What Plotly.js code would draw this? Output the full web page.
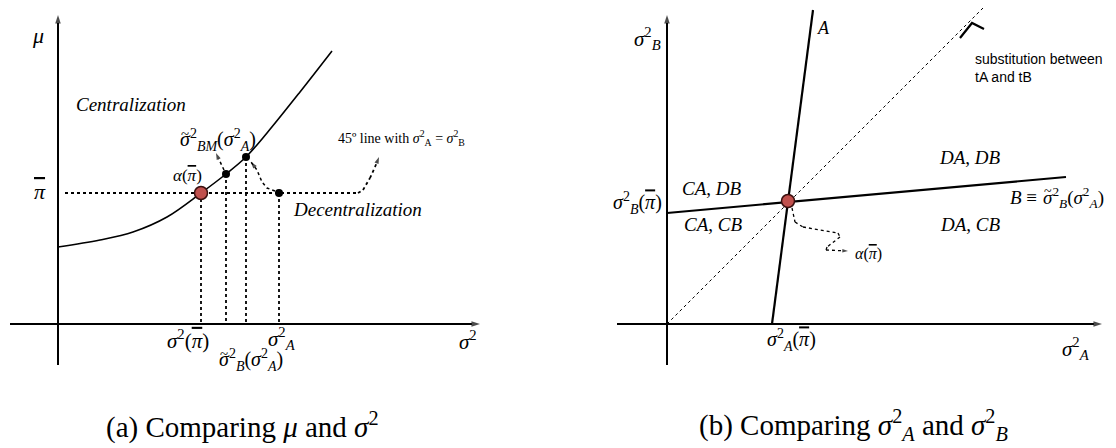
<!DOCTYPE html>
<html>
<head>
<meta charset="utf-8">
<script src="https://cdn.plot.ly/plotly-3.0.1.min.js"></script>
<style>
  body { margin: 0; background: #fff; }
  #chart { width: 1116px; height: 448px; }
</style>
</head>
<body>
<div id="chart"></div>
<script>
// ---- panel (a): mu vs sigma^2 ----
const curveX = [0, 4.2, 7.5, 10.9, 14.3, 16.8, 18.8, 20.9, 24.2, 27.4];
const curveY = [7.7, 8.4, 9.2, 10.7, 13.1, 15.0, 16.7, 19.1, 23.2, 27.3];
const alphaX = [14.3];
const alphaY = [13.1];
const dotX = [16.8, 18.8, 22.1];
const dotY = [15.0, 16.7, 13.1];
const dropX = [14.3, 16.8, 18.8, 22.1];
const dropY = [13.1, 15.0, 16.7, 13.1];
const hookX = [0.7, 30.0, 30.5, 31.2, 31.7, 32.1];
const hookY = [13.1, 13.1, 13.4, 14.6, 15.7, 16.7];
const bmArrowX = [16.6, 16.2, 15.8];
const bmArrowY = [15.4, 16.2, 17.1];
const decArrowX = [21.7, 20.9, 20.4, 19.9, 19.3];
const decArrowY = [13.3, 13.6, 14.2, 15.4, 16.2];
const axA_x = [[0, 0], [-4.8, 42.2]];
const axA_y = [[-4.1, 30.9], [0, 0]];

// ---- panel (b): sigma_A^2 vs sigma_B^2 ----
const lineAX = [10.5, 14.6];
const lineAY = [0, 31.4];
const lineBX = [0, 39.9];
const lineBY = [11.1, 14.7];
const diagX = [0, 31.6];
const diagY = [0, 31.6];
const chevX = [29.3, 30.5, 31.7];
const chevY = [28.6, 30.1, 29.5];
const wigX = [12.5, 12.8, 13.6, 17.1, 17.3, 16.0, 15.9, 18.1];
const wigY = [11.6, 10.2, 9.7, 9.1, 8.7, 7.7, 7.4, 7.3];
const alphaBX = [12.1];
const alphaBY = [12.3];
const axB_x = [[0, 0], [-5.0, 43.5]];
const axB_y = [[-4.1, 30.9], [0, 0]];

const serif = 'Liberation Serif, Times New Roman, serif';
const sans = 'Liberation Sans, Arial, sans-serif';

// line with an arrowhead on its last point
function arrowLine(xs, ys, xa, ya, width, dash, headSize) {
    let sym = xs.map((v, i) => i == xs.length - 1 ? 'arrow' : 'circle');
    let sz = xs.map((v, i) => i == xs.length - 1 ? headSize : 0);
    return {
        type: 'scatter', mode: 'lines+markers', x: xs, y: ys, xaxis: xa, yaxis: ya,
        line: {color: '#000', width: width, dash: dash},
        marker: {symbol: sym, size: sz, color: '#000', angleref: 'previous', line: {width: 0}},
        hoverinfo: 'skip'
    };
}
function plainLine(xs, ys, xa, ya, width, dash, shape) {
    return {
        type: 'scatter', mode: 'lines', x: xs, y: ys, xaxis: xa, yaxis: ya,
        line: {color: '#000', width: width, dash: dash, shape: shape || 'linear', smoothing: 1},
        hoverinfo: 'skip'
    };
}

let traces = [];
// panel a
for (let i = 0; i < 2; i++) traces.push(arrowLine(axA_x[i], axA_y[i], 'x', 'y', 2, 'solid', 9));
traces.push(plainLine(curveX, curveY, 'x', 'y', 1.6, 'solid', 'spline'));
for (let i = 0; i < dropX.length; i++) traces.push(plainLine([dropX[i], dropX[i]], [dropY[i], 0], 'x', 'y', 1.8, 'dot'));
traces.push(arrowLine(hookX, hookY, 'x', 'y', 1.8, 'dot', 7));
traces.push(arrowLine(bmArrowX, bmArrowY, 'x', 'y', 1.5, 'dot', 7));
traces.push(arrowLine(decArrowX, decArrowY, 'x', 'y', 1.5, 'dot', 7));
traces.push({type: 'scatter', mode: 'markers', x: dotX, y: dotY, xaxis: 'x', yaxis: 'y',
    marker: {color: '#000', size: 8}, hoverinfo: 'skip'});
traces.push({type: 'scatter', mode: 'markers', x: alphaX, y: alphaY, xaxis: 'x', yaxis: 'y',
    marker: {color: '#c0504d', size: 13, line: {color: '#3a0f0e', width: 1.5}}, hoverinfo: 'skip'});
// panel b
for (let i = 0; i < 2; i++) traces.push(arrowLine(axB_x[i], axB_y[i], 'x2', 'y2', 2, 'solid', 9));
traces.push(plainLine(diagX, diagY, 'x2', 'y2', 1, 'dot'));
traces.push(plainLine(lineAX, lineAY, 'x2', 'y2', 2.2, 'solid'));
traces.push(plainLine(lineBX, lineBY, 'x2', 'y2', 2.2, 'solid'));
traces.push(plainLine(chevX, chevY, 'x2', 'y2', 2.2, 'solid'));
traces.push(arrowLine(wigX, wigY, 'x2', 'y2', 1.3, 'dot', 6));
traces.push({type: 'scatter', mode: 'markers', x: alphaBX, y: alphaBY, xaxis: 'x2', yaxis: 'y2',
    marker: {color: '#c0504d', size: 13, line: {color: '#3a0f0e', width: 1.5}}, hoverinfo: 'skip'});

function lab(text, x, y, xr, size, extra) {
    let a = {text: text, x: x, y: y, xref: xr, yref: xr == 'x' ? 'y' : 'y2', showarrow: false,
        font: {family: serif, size: size, color: '#000'}, xanchor: 'center', yanchor: 'middle'};
    return Object.assign(a, extra || {});
}
const L = {xanchor: 'left'};
const pb = '<span style="text-decoration:overline"><i>π</i></span>';
const sA = '<i>σ</i><sup>2</sup><sub><i>A</i></sub>';
const sB = '<i>σ</i><sup>2</sup><sub><i>B</i></sub>';

let annotations = [
    lab('<i>μ</i>', -2.0, 28.9, 'x', 22),
    lab(pb, -1.8, 13.3, 'x', 22),
    lab('<i>Centralization</i>', 7.3, 22.0, 'x', 19),
    lab('<i>σ</i><sup>2</sup><sub><i>BM</i></sub>(' + sA + ')', 12.0, 18.4, 'x', 20, L),
    lab('~', 12.7, 19.0, 'x', 15),
    lab('<i>α</i>(' + pb + ')', 12.9, 14.9, 'x', 17),
    lab('45º line with ' + '<i>σ</i><sup>2</sup><sub>A</sub> = <i>σ</i><sup>2</sup><sub>B</sub>', 34.3, 18.6, 'x', 14),
    lab('<i>Decentralization</i>', 29.9, 11.5, 'x', 19),
    lab('<i>σ</i><sup>2</sup>(' + pb + ')', 13.0, -1.5, 'x', 21),
    lab(sA, 22.4, -1.4, 'x', 21),
    lab('<i>σ</i><sup>2</sup><sub><i>B</i></sub>(' + sA + ')', 15.9, -3.6, 'x', 20, L),
    lab('~', 16.6, -3.0, 'x', 15),
    lab('<i>σ</i><sup>2</sup>', 41.0, -1.6, 'x', 21),

    lab(sB, -2.0, 28.6, 'x2', 21),
    lab('<i>A</i>', 15.6, 29.6, 'x2', 18),
    lab('substitution between<br>tA and tB', 30.6, 25.6, 'x2', 14,
        {xanchor: 'left', align: 'left', font: {family: sans, size: 14, color: '#000'}}),
    lab('<i>DA</i>, <i>DB</i>', 30.3, 16.7, 'x2', 19),
    lab('<i>B</i> ≡', 37.2, 12.7, 'x2', 19, {xanchor: 'right'}),
    lab('<i>σ</i><sup>2</sup><sub><i>B</i></sub>(' + sA + ')', 37.4, 12.7, 'x2', 19, L),
    lab('~', 38.1, 13.3, 'x2', 14),
    lab('<i>DA</i>, <i>CB</i>', 30.3, 10.0, 'x2', 19),
    lab('<i>CA</i>, <i>DB</i>', 4.5, 13.6, 'x2', 19),
    lab('<i>CA</i>, <i>CB</i>', 4.6, 10.0, 'x2', 19),
    lab(sB + '(' + pb + ')', -3.0, 12.1, 'x2', 20),
    lab('<i>α</i>(' + pb + ')', 20.1, 7.0, 'x2', 16),
    lab(sA + '(' + pb + ')', 12.4, -1.6, 'x2', 20),
    lab(sA, 40.9, -2.4, 'x2', 21),

    {text: '(a) Comparing <i>μ</i> and <i>σ</i><sup>2</sup>', x: 242 / 1116, y: 1 - 425 / 448,
        xref: 'paper', yref: 'paper', showarrow: false, xanchor: 'center', yanchor: 'middle',
        font: {family: serif, size: 29, color: '#000'}},
    {text: '(b) Comparing ' + sA + ' and ' + sB,
        x: 853 / 1116, y: 1 - 425 / 448, xref: 'paper', yref: 'paper', showarrow: false,
        xanchor: 'center', yanchor: 'middle', font: {family: serif, size: 29, color: '#000'}}
];

let hidden = {visible: false, fixedrange: true, showgrid: false, zeroline: false};
let layout = {
    width: 1116, height: 448,
    margin: {l: 0, r: 0, t: 0, b: 0},
    paper_bgcolor: '#fff', plot_bgcolor: '#fff',
    showlegend: false, hovermode: false,
    xaxis: Object.assign({domain: [0, 540 / 1116], range: [-5.8, 48.2]}, hidden),
    yaxis: Object.assign({domain: [0, 1], range: [-12.4, 32.4]}, hidden),
    xaxis2: Object.assign({domain: [560 / 1116, 1], range: [-10.7, 44.9], anchor: 'y2'}, hidden),
    yaxis2: Object.assign({domain: [0, 1], range: [-12.4, 32.4], anchor: 'x2'}, hidden),
    annotations: annotations
};

Plotly.newPlot('chart', traces, layout, {displayModeBar: false, staticPlot: true});
</script>
</body>
</html>
